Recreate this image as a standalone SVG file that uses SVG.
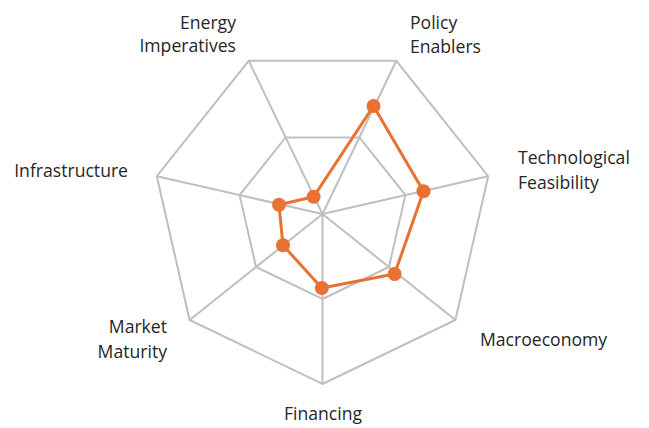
<svg xmlns="http://www.w3.org/2000/svg" width="649" height="428" viewBox="0 0 649 428">
  <style>
    .grid { fill: none; stroke: #bfbfbf; stroke-width: 2; stroke-linejoin: miter; }
    .axis { stroke: #bfbfbf; stroke-width: 2; }
    .series { fill: none; stroke: #E97132; stroke-width: 3; stroke-linejoin: round; }
    .pt { fill: #E97132; }
    .lbl { font-family: "Open Sans", "Noto Sans", "DejaVu Sans", sans-serif; font-size: 17.6px; fill: #262626; }
  </style>
  <rect width="649" height="428" fill="#ffffff"/>
  <g id="grid">
    <polygon class="grid" points="322.5,384 455.4,320 488.2,176.2 396.3,60.8 248.7,60.8 156.8,176.2 189.6,320"/>
    <polygon class="grid" points="322.5,299 388.95,267 405.4,195.1 359.4,137.4 285.6,137.4 239.6,195.1 256.05,267"/>
  </g>
  <g id="axes">
    <line class="axis" x1="322.5" y1="214" x2="322.5" y2="384"/>
    <line class="axis" x1="322.5" y1="214" x2="455.4" y2="320"/>
    <line class="axis" x1="322.5" y1="214" x2="488.2" y2="176.2"/>
    <line class="axis" x1="322.5" y1="214" x2="396.3" y2="60.8"/>
    <line class="axis" x1="322.5" y1="214" x2="248.7" y2="60.8"/>
    <line class="axis" x1="322.5" y1="214" x2="156.8" y2="176.2"/>
    <line class="axis" x1="322.5" y1="214" x2="189.6" y2="320"/>
  </g>
  <g id="series">
    <polygon class="series" points="313.6,196.8 373.5,106 423.5,191.3 394.6,274 321.8,288 283,245.3 279,204.8"/>
    <circle class="pt" cx="313.6" cy="196.8" r="7"/>
    <circle class="pt" cx="373.5" cy="106" r="7"/>
    <circle class="pt" cx="423.5" cy="191.3" r="7"/>
    <circle class="pt" cx="394.6" cy="274" r="7"/>
    <circle class="pt" cx="321.8" cy="288" r="7"/>
    <circle class="pt" cx="283" cy="245.3" r="7"/>
    <circle class="pt" cx="279" cy="204.8" r="7"/>
  </g>
  <g id="label-energy">
    <text class="lbl" text-anchor="end" x="236" y="29">Energy</text>
    <text class="lbl" text-anchor="end" x="236" y="52">Imperatives</text>
  </g>
  <g id="label-policy">
    <text class="lbl" x="410" y="29">Policy</text>
    <text class="lbl" x="410" y="53">Enablers</text>
  </g>
  <g id="label-tech">
    <text class="lbl" x="518" y="164">Technological</text>
    <text class="lbl" x="518" y="189">Feasibility</text>
  </g>
  <g id="label-macro">
    <text class="lbl" x="480" y="346">Macroeconomy</text>
  </g>
  <g id="label-financing">
    <text class="lbl" text-anchor="middle" x="323" y="420">Financing</text>
  </g>
  <g id="label-market">
    <text class="lbl" text-anchor="end" x="167" y="333">Market</text>
    <text class="lbl" text-anchor="end" x="167" y="358">Maturity</text>
  </g>
  <g id="label-infra">
    <text class="lbl" text-anchor="end" x="128" y="177">Infrastructure</text>
  </g>
</svg>
